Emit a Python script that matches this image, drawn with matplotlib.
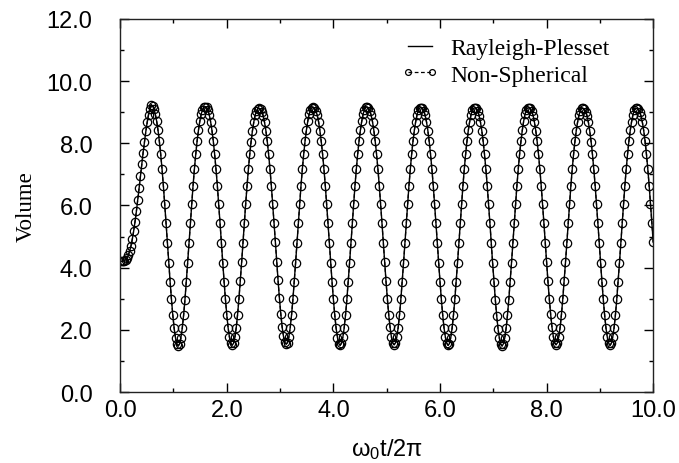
import numpy as np
import matplotlib
matplotlib.use("Agg")
import matplotlib.pyplot as plt
from matplotlib.ticker import MultipleLocator, FormatStrFormatter

# bubble volume, uniform sampling over 0 <= w0 t / 2pi <= 10
# (Rayleigh-Plesset and non-spherical results coincide at this resolution)
t_end = 10.0
volume = [
    # start-up from rest
    4.20, 4.20, 4.21, 4.22, 4.25, 4.31, 4.40, 4.53, 4.70, 4.92, 5.18, 5.48,
    5.81, 6.17, 6.55, 6.94, 7.33, 7.70, 8.05, 8.38, 8.67, 8.92, 9.11,
    # cycle 1
    9.24, 9.20, 9.10, 8.94, 8.72, 8.43, 8.08, 7.66, 7.18, 6.64, 6.05, 5.43, 4.79, 4.16, 3.55, 2.98, 2.47, 2.05, 1.74, 1.55,
    1.48, 1.55, 1.75, 2.05, 2.47, 2.97, 3.55, 4.16, 4.79, 5.43, 6.05, 6.64, 7.17, 7.65, 8.07, 8.42, 8.71, 8.93, 9.08, 9.16,
    # cycle 2
    9.18, 9.16, 9.07, 8.92, 8.70, 8.42, 8.07, 7.65, 7.17, 6.64, 6.05, 5.43, 4.79, 4.16, 3.55, 2.98, 2.48, 2.06, 1.76, 1.57,
    1.50, 1.57, 1.76, 2.07, 2.49, 2.99, 3.56, 4.17, 4.80, 5.43, 6.05, 6.63, 7.16, 7.64, 8.05, 8.40, 8.68, 8.90, 9.04, 9.11,
    # cycle 3
    9.12, 9.10, 9.02, 8.88, 8.67, 8.40, 8.06, 7.65, 7.17, 6.64, 6.06, 5.45, 4.82, 4.19, 3.59, 3.02, 2.52, 2.10, 1.79, 1.60,
    1.54, 1.59, 1.77, 2.07, 2.48, 2.98, 3.55, 4.16, 4.79, 5.43, 6.05, 6.64, 7.17, 7.65, 8.07, 8.42, 8.71, 8.93, 9.07, 9.14,
    # cycle 4
    9.16, 9.14, 9.05, 8.91, 8.70, 8.41, 8.06, 7.65, 7.17, 6.64, 6.05, 5.43, 4.79, 4.16, 3.55, 2.98, 2.48, 2.06, 1.75, 1.56,
    1.50, 1.57, 1.76, 2.06, 2.48, 2.98, 3.55, 4.16, 4.79, 5.43, 6.05, 6.64, 7.17, 7.65, 8.07, 8.42, 8.71, 8.93, 9.08, 9.16,
    # cycle 5
    9.17, 9.14, 9.05, 8.90, 8.69, 8.41, 8.06, 7.65, 7.17, 6.64, 6.05, 5.44, 4.80, 4.17, 3.56, 3.00, 2.49, 2.08, 1.77, 1.58,
    1.52, 1.58, 1.77, 2.07, 2.48, 2.98, 3.55, 4.16, 4.79, 5.43, 6.05, 6.64, 7.17, 7.65, 8.07, 8.42, 8.70, 8.92, 9.07, 9.14,
    # cycle 6
    9.15, 9.13, 9.04, 8.90, 8.69, 8.41, 8.06, 7.65, 7.17, 6.64, 6.05, 5.43, 4.79, 4.16, 3.55, 2.98, 2.48, 2.06, 1.76, 1.57,
    1.50, 1.56, 1.75, 2.06, 2.48, 2.98, 3.55, 4.16, 4.79, 5.43, 6.05, 6.64, 7.17, 7.65, 8.07, 8.42, 8.70, 8.92, 9.06, 9.13,
    # cycle 7
    9.14, 9.12, 9.04, 8.89, 8.68, 8.40, 8.06, 7.64, 7.17, 6.64, 6.05, 5.43, 4.78, 4.15, 3.54, 2.97, 2.46, 2.04, 1.73, 1.54,
    1.48, 1.55, 1.74, 2.05, 2.47, 2.97, 3.55, 4.16, 4.79, 5.43, 6.05, 6.64, 7.17, 7.65, 8.07, 8.42, 8.71, 8.93, 9.07, 9.14,
    # cycle 8
    9.14, 9.12, 9.04, 8.89, 8.68, 8.40, 8.06, 7.65, 7.17, 6.64, 6.06, 5.44, 4.80, 4.17, 3.56, 3.00, 2.50, 2.08, 1.78, 1.58,
    1.52, 1.58, 1.77, 2.07, 2.49, 2.99, 3.56, 4.17, 4.80, 5.44, 6.06, 6.64, 7.17, 7.65, 8.06, 8.41, 8.69, 8.91, 9.05, 9.12,
    # cycle 9
    9.12, 9.10, 9.02, 8.88, 8.67, 8.39, 8.05, 7.64, 7.16, 6.63, 6.05, 5.43, 4.79, 4.16, 3.55, 2.98, 2.48, 2.06, 1.76, 1.57,
    1.50, 1.57, 1.76, 2.06, 2.48, 2.98, 3.55, 4.16, 4.79, 5.43, 6.05, 6.64, 7.17, 7.65, 8.07, 8.42, 8.70, 8.92, 9.06, 9.12,
    # cycle 10 (cut at t = 10)
    9.12, 9.10, 9.02, 8.88, 8.67, 8.40, 8.06, 7.65, 7.17, 6.64, 6.06, 5.45, 4.82,
]
t = np.linspace(0.0, t_end, len(volume))

plt.rcParams["mathtext.fontset"] = "custom"
plt.rcParams["mathtext.rm"] = "Liberation Sans"
plt.rcParams["mathtext.it"] = "Liberation Sans"

fig = plt.figure(figsize=(6.79, 4.64), dpi=100)
ax = fig.add_axes([0.177, 0.153, 0.785, 0.804])

ax.plot(t, volume, color="black", lw=1.0, label="Rayleigh-Plesset")
ax.plot(t, volume, color="black", lw=0.9, ls=(0, (3, 2)), marker="o", ms=6,
        mfc="none", mec="black", mew=0.9, label="Non-Spherical")

ax.set_xlim(0, 10)
ax.set_ylim(0, 12)
ax.xaxis.set_major_locator(MultipleLocator(2))
ax.xaxis.set_minor_locator(MultipleLocator(1))
ax.yaxis.set_major_locator(MultipleLocator(2))
ax.yaxis.set_minor_locator(MultipleLocator(1))
ax.xaxis.set_major_formatter(FormatStrFormatter("%.1f"))
ax.yaxis.set_major_formatter(FormatStrFormatter("%.1f"))
ax.tick_params(which="both", direction="in", top=True, right=True, width=1.0)
ax.tick_params(which="major", length=6.5, labelsize=17)
ax.tick_params(which="minor", length=3.2)
ax.tick_params(axis="x", which="major", pad=5)
ax.tick_params(axis="y", which="major", pad=20)
for lab in ax.get_xticklabels() + ax.get_yticklabels():
    lab.set_family("Liberation Sans")
for s in ax.spines.values():
    s.set_linewidth(1.0)
    s.set_color("#222222")

ax.set_xlabel(r"$\mathrm{\omega_0 t/2\pi}$", fontsize=17, labelpad=11)
ax.set_ylabel("Volume", fontsize=16.5, family="Liberation Serif", labelpad=7)

leg = ax.legend(loc="upper right", bbox_to_anchor=(0.95, 0.995), frameon=False,
                prop={"family": "Liberation Serif", "size": 17},
                handlelength=1.6, handletextpad=0.5, labelspacing=0.22,
                numpoints=2, markerscale=0.7, borderaxespad=0.3)

fig.savefig("out.png", dpi=100)
